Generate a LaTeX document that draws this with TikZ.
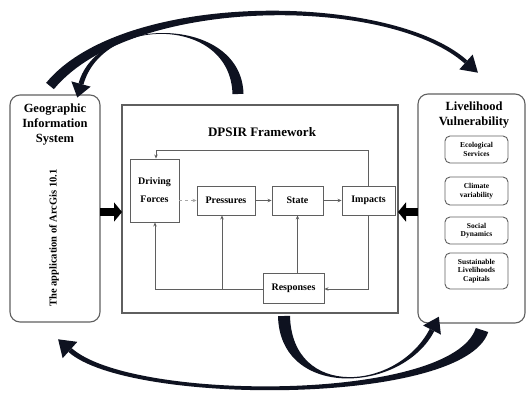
\documentclass[tikz,border=0pt]{standalone}
\usepackage{fontspec}
\setmainfont{Liberation Serif}
\usetikzlibrary{arrows.meta,calc}
\definecolor{arrowblk}{RGB}{14,18,32}
\definecolor{boxgray}{RGB}{95,95,95}
\tikzset{
  outerbox/.style={draw=boxgray, line width=1.1pt, rounded corners=10pt},
  mainbox/.style={draw=boxgray, line width=1.1pt},
  subbox/.style={draw=boxgray, line width=0.9pt, rounded corners=5pt, minimum width=63pt, align=center, font=\fontsize{7.5}{8.5}\selectfont\bfseries, inner sep=1pt},
  dbox/.style={draw=boxgray, line width=0.9pt, align=center, font=\fontsize{10}{12}\selectfont\bfseries, inner sep=1pt},
  flow/.style={draw=boxgray, line width=0.9pt, -{Stealth[length=4pt,width=3.5pt]}},
  bigfill/.style={fill=arrowblk},
  blockarrow/.style={draw=black, line width=8pt, -{Triangle[length=8pt,width=19pt]}}
}
% #1 prefix of coordinates #10..#13, #2 half tail width, #3 half end width, #4 head length, #5 head half width
\newcommand\taperarrow[5]{%
  \fill[bigfill] ($(#10)!#2!90:(#11)$) .. controls ($(#11)!#2!-90:(#10)$) and ($(#12)!#3!90:(#13)$) ..
     ($(#13)!#3!-90:(#12)$) -- ($(#13)!#3!90:(#12)$) .. controls ($(#12)!#3!-90:(#13)$) and ($(#11)!#2!90:(#10)$) ..
     ($(#10)!#2!-90:(#11)$) -- cycle;
  \fill[bigfill] ($(#13)!#5!90:(#12)$) -- ($(#13)!-#4!(#12)$) -- ($(#13)!#5!-90:(#12)$) -- cycle;
}
\begin{document}
\begin{tikzpicture}[x=1pt,y=-1pt]
\useasboundingbox (0,0) rectangle (529,394);
% outer boxes
\draw[outerbox] (10,95) rectangle (100,322);
\coordinate (gisE) at (100,212);
\draw[outerbox] (418,94) rectangle (525,323);
\coordinate (lvW) at (418,212);
\draw[mainbox] (122,105) rectangle (398,313);
\coordinate (mW) at (122,212);
\coordinate (mE) at (398,212);

% GIS text
\node[align=center, font=\fontsize{12.5}{15}\selectfont\bfseries] (gist) at (55,125) {Geographic\\Information\\System};
\node[rotate=90, font=\fontsize{10.5}{12}\selectfont\bfseries] (arcgis) at (54,238) {The application of ArcGis 10.1};

% LV text
\node[align=center, font=\fontsize{12.5}{14.5}\selectfont\bfseries] (lvt) at (474,115) {Livelihood\\Vulnerability};
\node[subbox, minimum height=27pt] (eco) at (476.5,149.5) {Ecological\\Services};
\node[subbox, minimum height=28pt] (cli) at (476.5,191) {Climate\\variability};
\node[subbox, minimum height=27pt] (soc) at (476.5,230.5) {Social\\Dynamics};
\node[subbox, minimum height=36pt] (sus) at (476.5,271) {Sustainable\\Livelihoods\\Capitals};

% DPSIR
\node[font=\fontsize{13}{15}\selectfont\bfseries] (title) at (262,132) {DPSIR Framework};
\node[dbox, minimum width=49pt, minimum height=63pt] (df) at (154.5,190.5) {Driving\\[6pt]Forces};
\node[dbox, minimum width=58pt, minimum height=29pt] (pr) at (226,200.5) {Pressures};
\node[dbox, minimum width=51pt, minimum height=29pt] (st) at (297.5,200.5) {State};
\node[dbox, minimum width=53pt, minimum height=29pt] (im) at (368.5,200.5) {Impacts};
\node[dbox, minimum width=61pt, minimum height=30pt] (re) at (293.5,288) {Responses};

\draw[flow, draw=boxgray!55, dashed] (df.east |- pr.west) -- (pr.west);
\draw[flow] (pr) -- (st);
\draw[flow] (st) -- (im);
\coordinate (topR) at (368,150);
\coordinate (topL) at (156,150);
\draw[flow] (im.north -| topR) -- (topR) -- (topL) -- (topL |- df.north);
\coordinate (imR) at (368,289);
\draw[flow] (im.south -| imR) -- (imR) -- (re.east |- imR);
\coordinate (reL) at (155,289);
\draw[flow] (re.west |- reL) -- (reL) -- (reL |- df.south);
\coordinate (prJ) at (222,289);
\draw[flow] (prJ) -- (prJ |- pr.south);
\draw[flow] (re.north -| st.south) -- (st.south);

% block arrows
\draw[blockarrow] (gisE) -- (mW);
\draw[blockarrow] (lvW) -- (mE);

% big curved tapered arrows
% A: GIS -> LV (over the top)
\coordinate (A0) at (50,86);
\coordinate (A1) at (128,-8);
\coordinate (A2) at (390,-6);
\coordinate (A3) at (466,62);
\taperarrow{A}{5pt}{2pt}{16pt}{10pt}
% B: DPSIR -> GIS
\coordinate (B0) at (238,94);
\coordinate (B1) at (236,15);
\coordinate (B2) at (100,15);
\coordinate (B3) at (81,84);
\taperarrow{B}{5.5pt}{2.5pt}{14pt}{10pt}
% C: DPSIR -> LV (below)
\coordinate (C0) at (284,316);
\coordinate (C1) at (286,400);
\coordinate (C2) at (400,392);
\coordinate (C3) at (432,330);
\taperarrow{C}{6pt}{2.5pt}{15pt}{10pt}
% D: LV -> GIS (below)
\coordinate (D0) at (482,330);
\coordinate (D1) at (458,404);
\coordinate (D2) at (130,404);
\coordinate (D3) at (70,350);
\taperarrow{D}{6.5pt}{2.5pt}{16pt}{11pt}
\end{tikzpicture}
\end{document}
